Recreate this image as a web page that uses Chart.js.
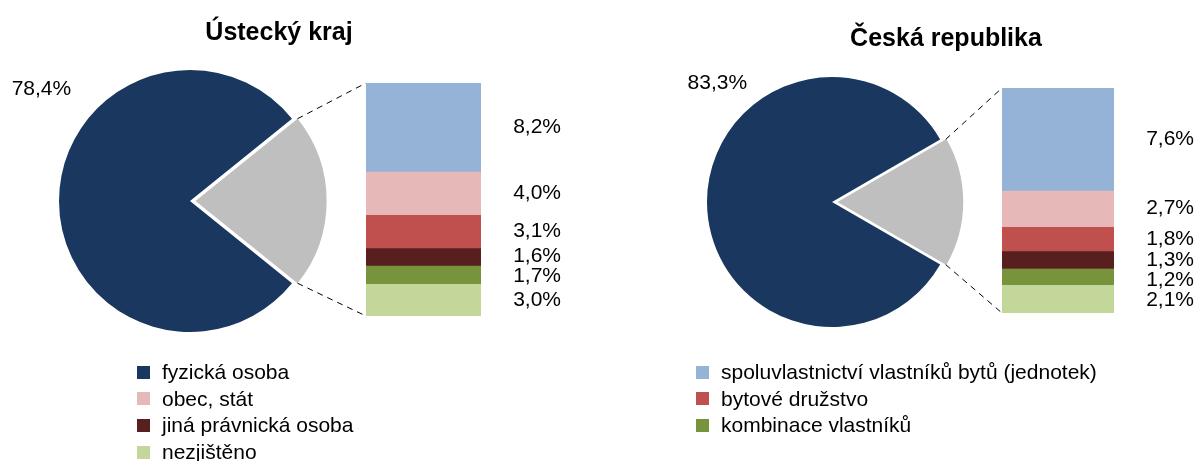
<!DOCTYPE html>
<html>
<head>
<meta charset="utf-8">
<script src="https://cdn.jsdelivr.net/npm/chart.js@4/dist/chart.umd.min.js"></script>
<style>
  body { margin: 0; background: #fff; }
  #wrap { position: relative; width: 1199px; height: 461px; overflow: hidden; font-family: "Liberation Sans", Arial, sans-serif; }
  canvas { position: absolute; }
  .title { position: absolute; width: 260px; text-align: center; font-weight: bold; font-size: 25px; line-height: 25px; color: #000; }
  .leg { position: absolute; height: 26px; display: flex; align-items: center; font-size: 21px; color: #000; white-space: nowrap; }
  .leg span.box { display: inline-block; width: 13px; height: 13px; margin-right: 12px; }
</style>
</head>
<body>
<div id="wrap">
  <canvas id="pieU" width="380" height="360" style="left:0;top:21px"></canvas>
  <canvas id="barU" width="215" height="233" style="left:366px;top:83px"></canvas>
  <canvas id="pieC" width="320" height="360" style="left:672px;top:22px"></canvas>
  <canvas id="barC" width="197" height="225" style="left:1002px;top:88px"></canvas>
  <canvas id="lines" width="1199" height="461" style="left:0;top:0;pointer-events:none"></canvas>
</div>
<script>
// data
const regions = ['Ústecký kraj', 'Česká republika'];
const mainLabel = 'fyzická osoba';
const mainValues = [78.4, 83.3];
const detailLabels = ['spoluvlastnictví vlastníků bytů (jednotek)', 'obec, stát', 'bytové družstvo',
                      'jiná právnická osoba', 'kombinace vlastníků', 'nezjištěno'];
const detailUstecky = [8.2, 4.0, 3.1, 1.6, 1.7, 3.0];
const detailCR = [7.6, 2.7, 1.8, 1.3, 1.2, 2.1];

// legend order (row by row, two columns)
const legendOrder = ['fyzická osoba', 'spoluvlastnictví vlastníků bytů (jednotek)', 'obec, stát',
                     'bytové družstvo', 'jiná právnická osoba', 'kombinace vlastníků', 'nezjištěno'];

const mainColor = '#1a375f';
const restColor = '#bfbfbf';
const detailColors = ['#95b3d7', '#e6b9b8', '#c0504d', '#581f1f', '#77933c', '#c4d79b'];
const FONT = '"Liberation Sans", Arial, sans-serif';

const fmt = v => v.toFixed(1).replace('.', ',') + '%';

// label for the big slice, placed up-left of the pie
const pieLabel = {
  id: 'pieLabel',
  afterDatasetsDraw(chart, args, opts) {
    const arc = chart.getDatasetMeta(0).data[0];
    const a = opts.angle * Math.PI / 180;
    const r = arc.outerRadius + opts.dist;
    const ctx = chart.ctx;
    ctx.save();
    ctx.font = '21px ' + FONT;
    ctx.fillStyle = '#000';
    ctx.textAlign = 'center';
    ctx.textBaseline = 'middle';
    ctx.fillText(fmt(chart.data.datasets[0].data[0]), arc.x + Math.cos(a) * r, arc.y + Math.sin(a) * r);
    ctx.restore();
  }
};

// value labels to the right of the stacked bar, pushed apart when too close
const barLabels = {
  id: 'barLabels',
  afterDatasetsDraw(chart) {
    const ctx = chart.ctx;
    ctx.save();
    ctx.font = '21px ' + FONT;
    ctx.fillStyle = '#000';
    ctx.textAlign = 'right';
    ctx.textBaseline = 'middle';
    let prev = -Infinity;
    chart.data.datasets.forEach((ds, i) => {
      const bar = chart.getDatasetMeta(i).data[0];
      const y = Math.max((bar.y + bar.base) / 2, prev + 20);
      prev = y;
      ctx.fillText(fmt(ds.data[0]), chart.chartArea.right + 80, y);
    });
    ctx.restore();
  }
};

function makePie(id, main, rest, radius, angle, dist) {
  const restShare = rest / (main + rest);
  return new Chart(document.getElementById(id), {
    type: 'pie',
    data: {
      labels: [mainLabel, 'ostatní'],
      datasets: [{
        data: [main, rest],
        backgroundColor: [mainColor, restColor],
        borderWidth: 0,
        offset: [0, 22]
      }]
    },
    options: {
      responsive: false,
      animation: false,
      events: [],
      radius: radius,
      // grey slice centred on the right side
      rotation: 90 + restShare * 180,
      plugins: { legend: { display: false }, tooltip: { enabled: false }, pieLabel: { angle: angle, dist: dist } }
    },
    plugins: [pieLabel]
  });
}

function makeBar(id, values, padRight) {
  const total = values.reduce((a, b) => a + b, 0);
  return new Chart(document.getElementById(id), {
    type: 'bar',
    data: {
      labels: [''],
      datasets: values.map((v, i) => ({
        label: detailLabels[i],
        data: [v],
        backgroundColor: detailColors[i],
        borderWidth: 0,
        barPercentage: 1,
        categoryPercentage: 1
      }))
    },
    options: {
      responsive: false,
      animation: false,
      events: [],
      layout: { padding: { right: padRight } },
      scales: {
        x: { display: false, stacked: true },
        y: { display: false, stacked: true, min: 0, max: total, reverse: true }
      },
      plugins: { legend: { display: false }, tooltip: { enabled: false } }
    },
    plugins: [barLabels]
  });
}

const sum = a => a.reduce((x, y) => x + y, 0);
const pieU = makePie('pieU', mainValues[0], sum(detailUstecky), 131, -143, 55);
const barU = makeBar('barU', detailUstecky, 100);
const pieC = makePie('pieC', mainValues[1], sum(detailCR), 125, -134, 40);
const barC = makeBar('barC', detailCR, 85);

// dashed connectors from the grey slice to the bar
function connect(pie, bar) {
  const pc = pie.canvas, bc = bar.canvas;
  const arc = pie.getDatasetMeta(0).data[1];
  const half = (arc.startAngle + arc.endAngle) / 2;
  const off = 22 / 4;
  const cx = pc.offsetLeft + arc.x + Math.cos(half) * off;
  const cy = pc.offsetTop + arc.y + Math.sin(half) * off;
  const r = arc.outerRadius;
  const ca = bar.chartArea;
  const ctx = document.getElementById('lines').getContext('2d');
  ctx.save();
  ctx.strokeStyle = '#000';
  ctx.lineWidth = 1;
  ctx.setLineDash([6, 5]);
  ctx.beginPath();
  ctx.moveTo(cx + Math.cos(arc.startAngle) * r, cy + Math.sin(arc.startAngle) * r);
  ctx.lineTo(bc.offsetLeft + ca.left, bc.offsetTop + ca.top);
  ctx.moveTo(cx + Math.cos(arc.endAngle) * r, cy + Math.sin(arc.endAngle) * r);
  ctx.lineTo(bc.offsetLeft + ca.left, bc.offsetTop + ca.bottom);
  ctx.stroke();
  ctx.restore();
}
connect(pieU, barU);
connect(pieC, barC);

// titles
const wrap = document.getElementById('wrap');
[[regions[0], 149, 19], [regions[1], 816, 25]].forEach(([t, x, y]) => {
  const d = document.createElement('div');
  d.className = 'title';
  d.style.left = x + 'px';
  d.style.top = y + 'px';
  d.textContent = t;
  wrap.appendChild(d);
});

// legend
const colorOf = name => name === mainLabel ? mainColor : detailColors[detailLabels.indexOf(name)];
legendOrder.forEach((name, i) => {
  const d = document.createElement('div');
  d.className = 'leg';
  d.style.left = (i % 2 === 0 ? 137 : 696) + 'px';
  d.style.top = (359 + Math.floor(i / 2) * 26.7) + 'px';
  d.innerHTML = '<span class="box" style="background:' + colorOf(name) + '"></span>';
  d.appendChild(document.createTextNode(name));
  wrap.appendChild(d);
});
</script>
</body>
</html>
